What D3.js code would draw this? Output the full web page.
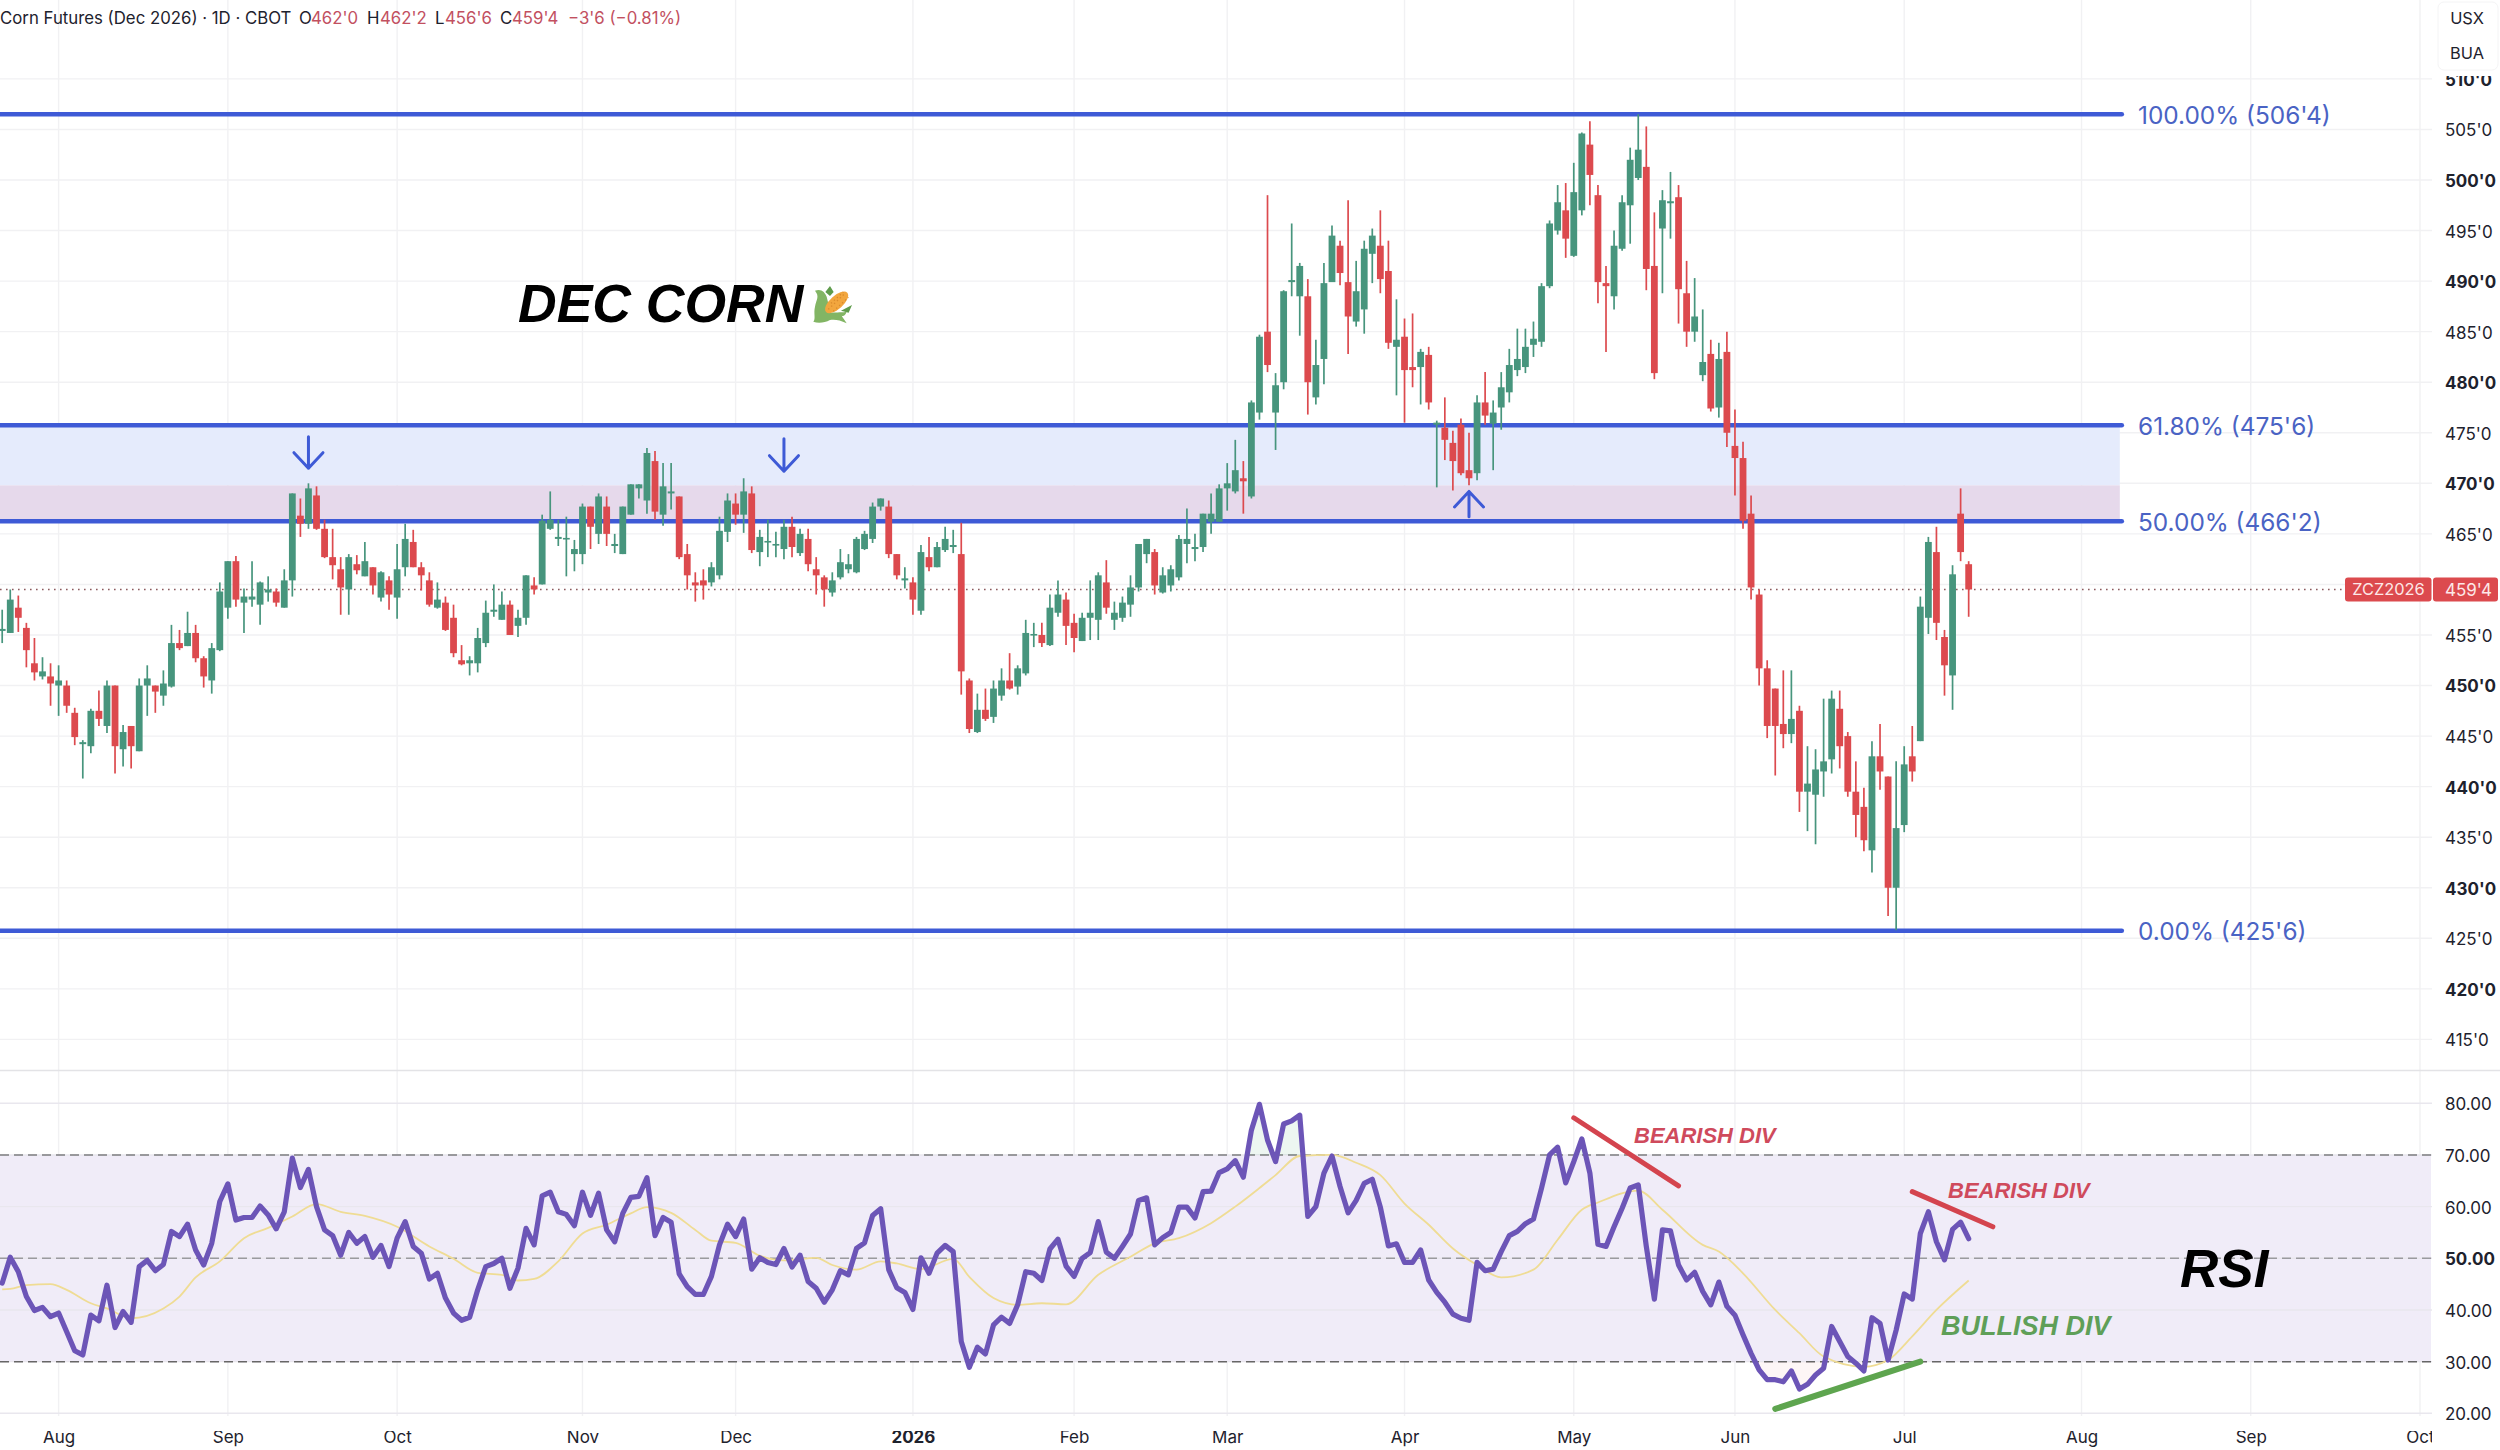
<!DOCTYPE html>
<html>
<head>
<meta charset="utf-8">
<script src="https://d3js.org/d3.v7.min.js"></script>
<style>
  html, body { margin: 0; background: #fff; }
  svg { display: block; }
  text { font-family: Inter, "Noto Sans", sans-serif; }
  .note { font-family: "Liberation Sans", Arial, sans-serif; font-weight: 700; font-style: italic; }
</style>
</head>
<body>
<div id="chart"></div>
<script>
// daily candles, quarter-cent prices rounded to 0.1
var opens = [
455.4,455.2,457.7,455.7,452.2,450.9,450.9,450.0,450.0,447.3,
444.2,444.0,447.5,446.0,450.0,443.7,446.0,443.5,450.0,450.0,
449.0,449.9,454.2,453.9,455.2,452.7,450.5,453.5,457.7,462.3,
458.2,458.5,458.0,459.2,459.3,457.7,460.4,466.8,466.0,468.8,
465.5,462.7,461.5,459.5,462.0,460.8,461.7,458.7,460.4,458.7,
461.7,464.2,461.7,460.4,457.7,458.2,456.7,452.5,452.2,452.2,
454.2,457.3,456.5,458.0,455.9,456.7,459.9,460.0,465.5,464.5,
464.5,463.0,463.0,467.7,465.0,467.7,463.8,463.0,466.9,469.5,
468.3,472.2,466.9,469.0,468.7,463.0,460.2,460.4,460.2,460.9,
465.2,468.0,466.9,469.0,463.2,464.2,463.9,463.5,465.7,463.1,
464.5,461.5,460.7,459.2,460.7,461.5,461.2,463.5,464.5,467.7,
467.7,463.0,460.4,460.2,457.4,462.7,461.7,463.4,463.7,463.0,
450.5,445.4,447.6,446.9,449.0,450.5,449.9,451.2,455.0,455.0,
454.0,457.2,458.5,456.2,454.4,456.7,456.5,460.2,456.5,456.7,
458.0,459.7,463.0,463.2,459.2,459.9,460.7,464.0,463.5,463.7,
466.2,466.2,469.5,469.2,470.5,468.7,477.0,485.0,477.0,480.0,
489.9,488.5,488.5,478.5,482.3,489.9,493.5,489.9,486.0,487.2,
492.7,493.5,491.0,483.5,484.5,481.5,481.5,482.7,475.8,475.5,
474.0,475.8,471.3,471.0,478.0,475.9,477.5,479.0,481.2,481.5,
483.7,484.0,489.5,495.0,497.0,492.5,497.0,503.5,498.5,489.8,
488.5,493.2,497.5,500.2,501.3,491.5,495.2,497.7,498.3,488.8,
485.0,480.7,482.8,477.5,483.0,473.7,472.5,467.0,459.0,451.7,
449.7,446.2,445.2,447.5,439.5,439.2,441.5,442.7,447.7,445.0,
439.5,438.0,433.7,443.0,441.0,430.0,436.2,443.0,444.5,456.7,
463.2,454.8,451.0,467.0,462.0];
var highs = [
457.5,459.5,458.9,456.2,454.7,452.8,452.2,452.0,450.5,447.8,
444.6,447.7,449.5,450.5,450.0,446.1,446.0,450.7,452.0,450.0,
451.5,456.0,455.5,457.3,456.0,452.9,454.2,460.2,462.3,462.8,
459.6,462.3,460.3,460.8,459.6,461.5,469.0,468.5,470.0,469.7,
466.4,465.5,462.7,463.0,462.9,464.2,461.7,461.3,460.8,464.0,
466.0,465.4,462.2,461.2,460.2,458.8,458.0,454.0,452.9,455.7,
458.4,460.0,459.3,458.4,457.5,460.9,460.7,466.9,469.2,466.4,
466.7,464.4,468.0,467.7,469.0,468.7,465.0,467.7,469.9,469.9,
473.5,473.2,472.0,472.0,468.7,464.0,461.2,461.5,462.2,466.7,
469.0,469.0,470.5,469.7,465.4,466.4,465.2,466.4,466.7,465.5,
465.5,462.7,460.9,461.2,463.5,463.0,464.7,465.3,468.1,468.5,
468.3,463.0,461.7,460.7,463.9,464.7,464.2,465.7,465.4,466.1,
450.7,449.2,449.7,450.5,451.7,453.2,452.0,456.5,456.2,456.2,
459.0,460.4,459.2,457.1,457.2,460.4,461.2,462.4,458.3,458.8,
460.9,464.0,464.5,463.5,461.7,461.9,464.9,467.5,465.0,467.0,
469.0,469.9,472.0,474.3,472.2,478.2,484.7,498.5,480.9,489.1,
495.7,491.8,490.2,484.2,491.8,495.5,494.0,498.0,492.0,494.0,
495.2,497.0,494.0,488.2,486.3,486.8,483.3,483.5,476.2,478.5,
475.2,476.4,475.0,478.7,481.0,478.2,481.0,483.3,485.3,485.3,
486.0,489.8,496.0,499.5,499.7,501.7,504.7,505.8,499.5,491.5,
495.0,498.5,503.2,506.5,505.3,496.8,499.0,500.8,499.5,492.0,
490.3,487.2,484.2,483.9,485.0,477.3,474.1,468.8,459.5,452.5,
449.7,451.5,451.5,448.0,444.0,443.7,448.7,449.5,449.5,445.4,
442.5,439.9,444.5,446.2,441.0,442.5,444.0,446.0,458.8,464.7,
465.7,455.5,461.9,469.5,462.3];
var lows = [
454.2,455.2,455.3,451.8,450.5,450.6,448.0,447.0,447.3,444.1,
440.8,443.3,446.0,445.3,441.3,442.0,441.8,443.5,447.0,447.3,
448.0,449.8,453.5,453.9,452.3,449.8,449.2,453.4,456.6,457.8,
455.2,457.8,456.0,458.3,457.8,457.7,458.8,464.7,465.5,465.4,
462.6,460.5,457.0,457.0,461.0,460.8,459.0,458.3,457.5,456.6,
460.8,461.7,459.4,457.8,457.6,455.4,452.8,452.0,451.0,451.3,
453.8,456.8,456.5,455.0,454.8,456.0,459.0,460.0,465.4,463.8,
460.8,461.3,462.0,463.5,464.0,463.8,463.1,463.0,466.9,468.5,
467.0,466.4,465.8,467.4,462.5,459.5,458.3,458.5,459.8,460.5,
464.2,465.9,465.1,463.1,461.8,462.7,462.7,462.5,462.7,462.8,
461.3,459.0,457.8,458.8,460.5,461.1,461.1,463.4,464.1,467.3,
462.6,460.5,459.6,457.0,457.0,461.3,461.7,463.2,463.1,449.1,
445.3,445.3,446.5,446.3,448.5,449.6,449.1,451.0,453.8,453.8,
453.9,456.8,454.0,453.3,454.4,454.5,454.5,457.1,455.5,456.3,
456.8,459.3,462.1,459.0,459.1,459.3,460.4,462.1,462.3,463.2,
465.0,466.2,467.3,469.0,467.0,468.5,476.3,481.0,473.3,479.3,
488.5,484.6,476.8,477.8,479.8,489.9,489.6,482.8,485.5,484.8,
489.8,488.8,483.3,478.7,476.0,479.5,477.8,477.3,469.6,472.3,
469.3,470.8,469.8,470.3,475.8,471.3,475.3,478.0,480.6,480.9,
482.5,483.5,489.3,494.6,492.3,492.4,496.5,497.5,487.8,483.0,
487.2,493.0,493.7,500.0,489.1,480.3,488.8,494.2,485.8,483.5,
484.0,480.1,477.1,476.5,473.6,468.8,465.5,458.5,450.0,444.8,
441.1,443.8,444.3,437.5,435.6,434.3,439.0,441.3,441.8,439.0,
435.0,433.6,431.5,439.7,427.2,425.8,435.5,440.5,444.5,455.1,
454.5,449.0,447.6,462.3,456.8];
var closes = [
455.6,458.5,456.7,453.5,451.3,451.4,450.2,450.5,448.0,444.9,
444.4,447.5,446.7,450.0,444.0,445.4,444.0,450.0,450.7,449.4,
450.2,454.2,453.7,455.2,452.7,450.9,453.7,459.3,462.3,458.5,
458.8,458.8,460.2,459.5,458.2,460.4,469.0,466.0,469.5,465.5,
462.7,461.9,459.7,462.7,461.4,462.3,459.9,461.2,459.0,461.5,
464.5,461.7,460.9,458.0,458.5,455.5,453.2,452.1,452.5,454.7,
457.2,457.5,458.0,455.0,456.7,460.9,459.5,466.3,466.4,464.7,
464.6,463.5,467.7,465.7,468.7,465.0,464.0,467.7,469.9,469.9,
473.0,467.2,469.7,469.2,462.7,460.9,459.9,459.9,461.7,465.3,
468.3,466.9,469.2,463.4,464.7,464.3,464.0,465.7,463.7,465.0,
462.0,460.9,459.5,460.4,462.2,462.0,464.5,465.0,467.7,468.5,
463.0,460.9,460.6,458.5,463.2,461.7,463.7,464.5,463.9,451.4,
445.7,447.6,446.7,449.7,450.5,449.7,451.7,455.2,455.1,454.2,
457.7,459.0,455.9,454.7,456.7,457.2,460.9,457.7,457.2,458.2,
459.7,464.0,464.5,459.9,460.9,461.5,464.5,464.5,463.7,467.0,
467.0,469.5,470.0,471.3,470.2,478.0,484.5,481.7,479.7,489.0,
490.1,491.5,480.0,481.7,489.8,494.5,490.8,486.5,489.0,493.2,
494.5,490.2,483.9,484.2,481.2,481.2,483.0,478.0,476.0,474.3,
472.2,471.0,470.5,478.0,476.7,477.0,479.5,481.7,482.3,483.5,
484.3,489.5,495.7,497.8,494.2,498.8,504.6,500.5,489.9,489.5,
493.5,497.8,502.0,503.0,491.2,480.9,498.0,497.9,489.2,485.0,
486.5,482.0,477.4,482.3,475.0,472.5,466.3,459.7,451.7,446.0,
446.0,445.2,446.7,439.5,440.3,441.7,442.5,448.7,444.0,439.5,
437.2,434.7,443.0,441.5,430.0,435.9,442.2,441.5,457.8,464.2,
456.2,452.0,461.0,463.2,459.5];

var rsi = [
45.2,50.2,47.4,42.6,39.9,40.5,38.7,39.4,35.8,32.1,
31.3,39.0,37.9,44.8,36.6,39.7,37.6,48.4,49.6,47.6,
48.8,55.2,54.2,56.6,51.6,48.7,52.9,61.0,64.4,57.4,
57.9,57.9,60.1,58.4,55.7,59.0,69.4,63.7,67.2,60.0,
55.5,54.4,50.6,55.0,52.9,54.2,50.2,52.5,48.4,53.9,
57.1,52.3,51.0,46.0,47.1,42.3,39.4,38.0,38.6,43.9,
48.4,49.0,50.0,44.2,48.1,55.8,52.6,62.1,62.8,59.0,
58.5,56.3,62.8,58.3,62.6,55.5,53.2,58.7,61.8,62.0,
65.6,54.4,57.9,57.0,47.0,44.5,43.0,43.0,46.5,52.6,
56.6,54.2,57.6,47.9,50.1,49.2,48.8,51.9,48.3,50.6,
45.5,44.2,41.5,43.9,47.6,46.8,51.9,53.0,58.3,59.6,
47.8,44.3,43.4,40.1,50.1,47.1,51.0,52.5,51.3,33.9,
28.9,32.8,31.5,37.1,38.6,37.4,41.0,47.4,47.1,45.7,
51.8,53.7,48.5,46.5,50.0,51.1,57.1,51.2,50.0,52.3,
54.7,61.2,61.7,52.6,54.0,55.0,59.9,59.9,57.8,62.9,
63.0,66.6,67.3,68.9,65.7,74.8,79.8,72.9,68.7,76.0,
76.6,77.7,58.1,60.0,66.5,69.8,63.9,58.8,61.2,64.5,
65.3,59.9,52.4,52.8,49.2,49.2,51.6,45.8,43.4,41.5,
39.2,38.4,38.0,49.2,47.6,47.9,51.3,54.4,55.2,56.7,
57.6,63.6,70.0,71.5,64.6,68.7,73.1,66.5,52.7,52.3,
56.1,59.7,63.6,64.2,52.3,42.1,55.5,55.3,48.7,45.8,
47.3,43.6,41.0,45.4,40.7,39.0,35.2,31.6,28.4,26.5,
26.5,26.1,28.2,24.7,25.6,27.4,28.7,36.8,33.9,31.0,
29.7,28.2,38.5,37.4,30.3,36.1,43.1,42.1,54.8,59.0,
53.2,49.7,55.6,57.0,53.8];

// RSI moving average, read at the days below
var maDays = [0,1,3,6,8,11,13,16,20,22,24,27,30,33,36,39,42,45,49,53,56,59,62,64,66,69,72,75,78,80,83,86,88,91,94,97,
  101,103,106,109,111,114,118,120,123,126,129,132,136,140,143,146,150,153,156,158,161,165,168,171,174,177,180,183,186,190,193,196,198,203,206,211,213,216,220,223,226,231,234,237,240,244];
var maValues = [44.0,44.1,44.8,45.0,43.9,41.3,40.3,38.4,40.3,42.6,46.3,49.4,53.9,55.9,58.1,60.5,59.0,58.2,56.1,52.3,49.9,47.2,46.8,45.7,46.0,49.4,54.8,56.5,58.7,59.9,58.8,55.5,53.4,53.0,50.5,49.6,
  50.1,48.7,47.8,49.4,49.0,47.9,49.9,46.4,42.3,41.0,41.3,41.1,46.8,50.3,52.9,53.9,56.8,60.0,63.6,66.1,69.8,70.0,68.5,66.1,60.6,56.5,51.9,48.7,46.3,47.8,53.6,59.4,60.8,63.1,59.4,52.6,51.3,47.1,40.0,35.5,31.0,29.0,30.3,34.9,40.0,45.7];

var monthDays = [7,28,49,72,91,113,133,152,174,195,215,236,258,279,300];
var monthLabels = ["Aug","Sep","Oct","Nov","Dec","2026","Feb","Mar","Apr","May","Jun","Jul","Aug","Sep","Oct"];
var priceTicks = d3.range(415, 511, 5);
var priceLabelTicks = priceTicks.filter(function(d) { return d !== 460; }); // 460'0 sits under the last price tag
var boldPrices = [510,500,490,480,470,450,440,430,420];
var rsiTicks = [20,30,40,50,60,70,80];
var rsiGuides = [70,50,30];

var fibPrices = [506.5,475.75,466.25,425.75];
var fibLabels = ["100.00% (506'4)","61.80% (475'6)","50.00% (466'2)","0.00% (425'6)"];
var fibEndDay = 263;
var overlapTop = 469.8;
var lastClose = 459.5;

// blue arrows on the price pane: day, tail price, tip price
var arrowDays = [38,97,182];
var arrowTails = [474.6,474.4,466.7];
var arrowTips = [471.5,471.2,469.2];

// divergence lines on the RSI pane
var divFrom = [[195,77.2],[237,62.9],[220,20.85]];
var divTo = [[208,64.0],[247,56.1],[238,30]];
var divColors = ["#d4444e","#d4444e","#5ea54f"];

var width = 2500, height = 1450;
var green = "#47957d", red = "#dc4a4e", blue = "#3e5ad6";

var svg = d3.select("#chart").append("svg").attr("width", width).attr("height", height);

var x = d3.scaleLinear().domain([0, 300]).range([2.2, 2420]);
var y = d3.scaleLinear().domain([415, 510]).range([1039.4, 78.9]);
var yr = d3.scaleLinear().domain([20, 80]).range([1413.3, 1103.3]);

var defs = svg.append("defs");
defs.append("clipPath").attr("id", "timeClip").append("rect").attr("width", 2432).attr("height", height);
defs.append("clipPath").attr("id", "rsiScaleClip").append("rect").attr("y", 1090).attr("width", width).attr("height", 329);
defs.append("clipPath").attr("id", "overClip").append("rect").attr("width", 2432).attr("height", yr(70));
defs.append("clipPath").attr("id", "underClip").append("rect").attr("y", yr(30)).attr("width", 2432).attr("height", 200);

// grid
var grid = svg.append("g").attr("stroke", "#f1f1f3").attr("stroke-width", 1.4);
grid.selectAll("line.h").data(priceTicks).join("line").attr("class", "h")
  .attr("x1", 0).attr("x2", 2432).attr("y1", function(d) { return y(d); }).attr("y2", function(d) { return y(d); });
grid.selectAll("line.v").data(monthDays).join("line").attr("class", "v")
  .attr("x1", function(d) { return x(d); }).attr("x2", function(d) { return x(d); })
  .attr("y1", 0).attr("y2", 1416);
svg.append("line").attr("x1", 0).attr("x2", width).attr("y1", 1070.5).attr("y2", 1070.5)
  .attr("stroke", "#e3e3e6").attr("stroke-width", 1.5);

// fib zones and lines
svg.append("rect").attr("x", 0).attr("width", x(fibEndDay) - 2)
  .attr("y", y(fibPrices[1])).attr("height", y(overlapTop) - y(fibPrices[1])).attr("fill", "#e5ebfc");
svg.append("rect").attr("x", 0).attr("width", x(fibEndDay) - 2)
  .attr("y", y(overlapTop)).attr("height", y(fibPrices[2]) - y(overlapTop)).attr("fill", "#e6d9eb");

svg.selectAll("line.fib").data(fibPrices).join("line").attr("class", "fib")
  .attr("x1", -4).attr("x2", x(fibEndDay))
  .attr("y1", function(d) { return y(d); }).attr("y2", function(d) { return y(d); })
  .attr("stroke", blue).attr("stroke-width", 4.6).attr("stroke-linecap", "round");
svg.selectAll("text.fib").data(fibPrices).join("text").attr("class", "fib")
  .attr("x", 2138).attr("y", function(d) { return y(d) + 1; }).attr("dy", "0.36em")
  .attr("font-size", 24.4).attr("fill", "#4a63c4")
  .text(function(d, i) { return fibLabels[i]; });

// last price line
svg.append("line").attr("x1", 0).attr("x2", 2345).attr("y1", y(lastClose)).attr("y2", y(lastClose))
  .attr("stroke", "#8c5a5e").attr("stroke-width", 1.5).attr("stroke-dasharray", "1.6 4.4");

// candles
var days = d3.range(opens.length);
var candles = svg.append("g");
candles.selectAll("line").data(days).join("line")
  .attr("x1", function(d) { return x(d); }).attr("x2", function(d) { return x(d); })
  .attr("y1", function(d) { return y(highs[d]); }).attr("y2", function(d) { return y(lows[d]); })
  .attr("stroke", function(d) { return closes[d] >= opens[d] ? green : red; })
  .attr("stroke-width", 1.7);
candles.selectAll("rect").data(days).join("rect")
  .attr("x", function(d) { return x(d) - 3.4; }).attr("width", 6.8)
  .attr("y", function(d) { return y(Math.max(opens[d], closes[d])); })
  .attr("height", function(d) { return Math.max(1.6, Math.abs(y(opens[d]) - y(closes[d]))); })
  .attr("fill", function(d) { return closes[d] >= opens[d] ? green : red; });

// arrows
var arrows = svg.append("g").attr("fill", "none").attr("stroke", blue).attr("stroke-width", 3)
  .attr("stroke-linecap", "round").attr("stroke-linejoin", "round");
arrowDays.forEach(function(d, i) {
  var px = x(d), tip = y(arrowTips[i]), tail = y(arrowTails[i]);
  var dir = tip > tail ? -1 : 1;
  arrows.append("path").attr("d", "M" + px + "," + tail + "L" + px + "," + tip +
    "M" + (px - 14.5) + "," + (tip + dir * 15.5) + "L" + px + "," + tip + "L" + (px + 14.5) + "," + (tip + dir * 15.5));
});

// title
svg.append("text").attr("class", "note").attr("x", 518).attr("y", 321.5).attr("font-size", 53.5).attr("fill", "#000").text("DEC CORN");
var corn = svg.append("g").attr("transform", "translate(780,270) scale(0.3333)");
corn.append("path").attr("fill", "#5f9c4c").attr("d", "M136,66L150,48L161,66L150,78ZM183,122L216,105L206,128Z");
corn.append("path").attr("fill", "#82b564")
  .attr("d", "M105,62C125,55 135,68 140,80L152,128C170,126 190,128 200,125C196,136 190,140 185,137C190,145 195,151 200,160C180,150 165,148 150,150C135,158 115,161 100,155C108,145 100,130 105,110C108,90 120,80 105,62Z");
corn.append("ellipse").attr("cx", 170).attr("cy", 97).attr("rx", 43).attr("ry", 20)
  .attr("transform", "rotate(-42 170 97)").attr("fill", "#f2a63e");
corn.append("path").attr("stroke", "#d98a2c").attr("stroke-width", 4).attr("stroke-dasharray", "4 8").attr("fill", "none")
  .attr("d", "M145,118L195,70M153,100L190,66M160,124L205,82");

// price scale
svg.append("g").attr("transform", "translate(2445,1)")
  .call(d3.axisRight(y).tickValues(priceLabelTicks).tickSize(0).tickPadding(0).tickFormat(function(d) { return d + "'0"; }))
  .call(function(g) { g.select(".domain").remove(); })
  .selectAll("text")
  .attr("font-family", "Inter, sans-serif")
  .attr("font-size", 17).attr("fill", "#1e222d")
  .attr("font-weight", function(d) { return boldPrices.indexOf(d) >= 0 ? 700 : 400; });

// last price tag
var tag = svg.append("g");
tag.append("rect").attr("x", 2345).attr("width", 86.5).attr("y", y(lastClose) - 12).attr("height", 24).attr("rx", 3).attr("fill", red);
tag.append("rect").attr("x", 2433).attr("width", 65).attr("y", y(lastClose) - 12).attr("height", 24).attr("rx", 3).attr("fill", red);
tag.append("text").attr("x", 2388.5).attr("y", y(lastClose)).attr("dy", "0.36em").attr("text-anchor", "middle")
  .attr("font-size", 16.4).attr("fill", "#fde8e8").text("ZCZ2026");
tag.append("text").attr("x", 2445).attr("y", y(lastClose)).attr("dy", "0.36em")
  .attr("font-size", 17).attr("fill", "#fde8e8").text("459'4");

// header
var header = svg.append("text").attr("y", 17.5).attr("dy", "0.36em").attr("font-size", 16.8).attr("fill", "#1e222d");
header.append("tspan").attr("x", 0).text("Corn Futures (Dec 2026) · 1D · CBOT");
[["O", "462'0", 299, 311], ["H", "462'2", 367, 380], ["L", "456'6", 435, 445], ["C", "459'4", 500, 512]].forEach(function(p) {
  header.append("tspan").attr("x", p[2]).text(p[0]);
  header.append("tspan").attr("x", p[3]).attr("fill", "#c2505f").text(p[1]);
});
header.append("tspan").attr("x", 568).attr("fill", "#c2505f").text("−3'6 (−0.81%)");

// currency / unit badge, it covers the top of the 510'0 label
svg.append("rect").attr("x", 2438).attr("y", 66).attr("width", 60).attr("height", 10).attr("fill", "#fff");
svg.append("rect").attr("x", 2438).attr("y", 2).attr("width", 60).attr("height", 68).attr("rx", 6)
  .attr("fill", "#fff").attr("stroke", "#f4f4f5");
svg.append("text").attr("x", 2467).attr("y", 18.5).attr("dy", "0.36em").attr("text-anchor", "middle").attr("font-size", 16.4).attr("fill", "#1e222d").text("USX");
svg.append("text").attr("x", 2467).attr("y", 53).attr("dy", "0.36em").attr("text-anchor", "middle").attr("font-size", 16.4).attr("fill", "#1e222d").text("BUA");

// RSI pane
svg.append("rect").attr("x", 0).attr("width", 2431).attr("y", yr(70)).attr("height", yr(30) - yr(70)).attr("fill", "#f0ecf8");
svg.selectAll("line.rg").data(rsiTicks).join("line").attr("class", "rg")
  .attr("x1", 0).attr("x2", 2432).attr("y1", function(d) { return yr(d); }).attr("y2", function(d) { return yr(d); })
  .attr("stroke", "#e9e7ee").attr("stroke-width", 1.4);
svg.selectAll("line.guide").data(rsiGuides).join("line").attr("class", "guide")
  .attr("x1", 0).attr("x2", 2431).attr("y1", function(d) { return yr(d); }).attr("y2", function(d) { return yr(d); })
  .attr("stroke", function(d) { return d === 30 ? "#666" : d === 50 ? "#9a9a9e" : "#7d7d80"; })
  .attr("stroke-width", 1.5).attr("stroke-dasharray", "9 5");

// fill beyond the bands
svg.append("path").datum(days).attr("clip-path", "url(#overClip)").attr("fill", "#3c9a5f").attr("opacity", 0.09)
  .attr("d", d3.area().x(function(d) { return x(d); }).y0(yr(70)).y1(function(d) { return yr(rsi[d]); }));
svg.append("path").datum(days).attr("clip-path", "url(#underClip)").attr("fill", "#e0606a").attr("opacity", 0.06)
  .attr("d", d3.area().x(function(d) { return x(d); }).y0(yr(30)).y1(function(d) { return yr(rsi[d]); }));

svg.append("path").datum(days)
  .attr("fill", "none").attr("stroke", "#efdc94").attr("stroke-width", 1.8)
  .attr("d", d3.line().curve(d3.curveMonotoneX)
    .x(function(d, i) { return x(maDays[i]); }).y(function(d, i) { return yr(maValues[i]); })(maDays));
svg.append("path").datum(days)
  .attr("fill", "none").attr("stroke", "#6c55b7").attr("stroke-width", 5.2)
  .attr("stroke-linejoin", "round").attr("stroke-linecap", "round")
  .attr("d", d3.line().x(function(d) { return x(d); }).y(function(d) { return yr(rsi[d]); }));

// divergence annotations
svg.selectAll("line.div").data(divFrom).join("line").attr("class", "div")
  .attr("x1", function(d) { return x(d[0]); }).attr("y1", function(d) { return yr(d[1]); })
  .attr("x2", function(d, i) { return x(divTo[i][0]); }).attr("y2", function(d, i) { return yr(divTo[i][1]); })
  .attr("stroke", function(d, i) { return divColors[i]; })
  .attr("stroke-width", function(d, i) { return i === 2 ? 6 : 5; })
  .attr("stroke-linecap", "round");

svg.append("text").attr("class", "note").attr("x", 1634).attr("y", 1143).attr("font-size", 22).attr("fill", "#cf4a5c").text("BEARISH DIV");
svg.append("text").attr("class", "note").attr("x", 1948).attr("y", 1198).attr("font-size", 22).attr("fill", "#cf4a5c").text("BEARISH DIV");
svg.append("text").attr("class", "note").attr("x", 1941).attr("y", 1335).attr("font-size", 27).attr("fill", "#5f9f58").text("BULLISH DIV");
svg.append("text").attr("class", "note").attr("x", 2180).attr("y", 1287).attr("font-size", 53).attr("fill", "#000").text("RSI");

// RSI scale
svg.append("g").attr("transform", "translate(2445,1)").attr("clip-path", "url(#rsiScaleClip)")
  .call(d3.axisRight(yr).tickValues(rsiTicks).tickSize(0).tickPadding(0).tickFormat(d3.format(".2f")))
  .call(function(g) { g.select(".domain").remove(); })
  .selectAll("text")
  .attr("font-family", "Inter, sans-serif")
  .attr("font-size", 17).attr("fill", "#1e222d")
  .attr("font-weight", function(d) { return d === 50 ? 700 : 400; });

// time axis
svg.append("g").attr("transform", "translate(0,1431)").attr("clip-path", "url(#timeClip)")
  .call(d3.axisBottom(x).tickValues(monthDays).tickSize(0).tickPadding(0)
    .tickFormat(function(d, i) { return monthLabels[i]; }))
  .call(function(g) { g.select(".domain").remove(); })
  .selectAll("text")
  .attr("font-family", "Inter, sans-serif")
  .attr("font-size", 17).attr("fill", "#1e222d")
  .attr("font-weight", function(d, i) { return monthLabels[i] === "2026" ? 700 : 400; });
</script>
</body>
</html>
